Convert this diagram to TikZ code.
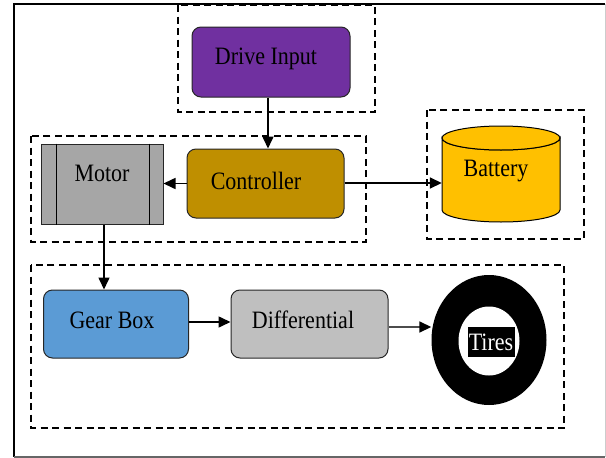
\documentclass[tikz,border=0pt]{standalone}
\usepackage{fontspec}
\setmainfont{Liberation Serif}[FakeStretch=0.88]
\usetikzlibrary{arrows.meta,shapes.geometric,calc}
\definecolor{cpurple}{HTML}{7030A0}
\definecolor{cctrl}{HTML}{BF8F00}
\definecolor{cmotor}{HTML}{A6A6A6}
\definecolor{cbat}{HTML}{FFC000}
\definecolor{cgear}{HTML}{5B9BD5}
\definecolor{cdiff}{HTML}{BFBFBF}
\begin{document}
\begin{tikzpicture}[x=1pt,y=-1pt,
  font=\fontsize{25}{28}\selectfont,
  box/.style={draw=black!85, line width=1pt, rounded corners=9pt, inner sep=0pt},
  grp/.style={draw=black, line width=1.4pt, dash pattern=on 7pt off 4.5pt},
  arr/.style={-{Triangle[length=12pt,width=11pt,color=black]}, line width=1.6pt},
  plainbox/.style={draw=black!85, line width=1pt, inner sep=0pt}]
\useasboundingbox (0,0) rectangle (606,458);
% outer frame
\draw[line width=1.5pt] (605,4) -- (14,4) -- (14,457);
\draw[black!60, line width=1.2pt] (14,457) -- (605,457);
\draw[black!20, line width=0.8pt] (605,4) -- (605,457);
% groups
\draw[grp] (178,5) rectangle (375,112);
\draw[grp] (31,136) rectangle (366,242);
\draw[grp] (427,110) rectangle (584,239);
\draw[grp] (31,265) rectangle (564,428);
% nodes
\node[box, fill=cpurple, minimum width=158pt, minimum height=70pt] (drive) at (271,62) {};
\node (drivetxt) at (266,59) {Drive Input};
\node[box, fill=cctrl, minimum width=157pt, minimum height=69pt] (ctrl) at (265.5,183.5) {};
\node (ctrltxt) at (256,181) {Controller};
\node[plainbox, fill=cmotor, minimum width=122pt, minimum height=80pt] (motor) at (102,184) {};
\draw[line width=1pt] ($(motor.north west)+(15.6,0)$) -- ($(motor.south west)+(15.6,0)$);
\draw[line width=1pt] ($(motor.north east)+(-14,0)$) -- ($(motor.south east)+(-14,0)$);
\node (motortxt) at (102,173) {Motor};
% battery cylinder
\draw[fill=cbat, line width=1pt] (442,138) -- (442,210) arc[start angle=180, end angle=0, x radius=59, y radius=12] -- (560,138) arc[start angle=0, end angle=180, x radius=59, y radius=12] -- cycle;
\draw[fill=cbat, line width=1pt] (501,138) ellipse[x radius=59, y radius=12];
\node[inner sep=0pt, minimum width=118pt, minimum height=96pt] (bat) at (501,174) {};
\node (battxt) at (496,171) {Battery};
\node[box, fill=cgear, minimum width=145pt, minimum height=68pt] (gear) at (116,324) {};
\node (geartxt) at (112,320) {Gear Box};
\node[box, fill=cdiff, minimum width=157pt, minimum height=68pt] (diff) at (309.5,324) {};
\node (difftxt) at (303,320) {Differential};
% tire
\node[ellipse, fill=black, inner sep=0pt, minimum width=115pt, minimum height=130pt] (tire) at (489,340) {};
\node[ellipse, fill=white, inner sep=0pt, minimum width=61pt, minimum height=69pt] (rim) at (489,341) {};
\node[fill=black, text=white, inner sep=1pt, minimum width=47pt, minimum height=30pt] (tires) at (491,342) {Tires};
% connectors
\coordinate (a1) at ($(drive.south)+(-3,0)$);
\draw[arr] (a1) -- (a1 |- ctrl.north);
\draw[arr] (ctrl.west) -- (ctrl.west -| motor.east);
\coordinate (a3) at ($(ctrl.east)+(0,-0.5)$);
\draw[arr] (a3) -- (a3 -| bat.west);
\coordinate (a4) at ($(motor.south)+(2,0)$);
\draw[arr] (a4) -- (a4 |- gear.north);
\coordinate (a5) at ($(gear.east)+(0,-2)$);
\draw[arr] (a5) -- (a5 -| diff.west);
\coordinate (a6) at ($(diff.east)+(0,3)$);
\draw[arr, draw=black!70] (a6) -- (a6 -| tire.west);
\end{tikzpicture}
\end{document}
